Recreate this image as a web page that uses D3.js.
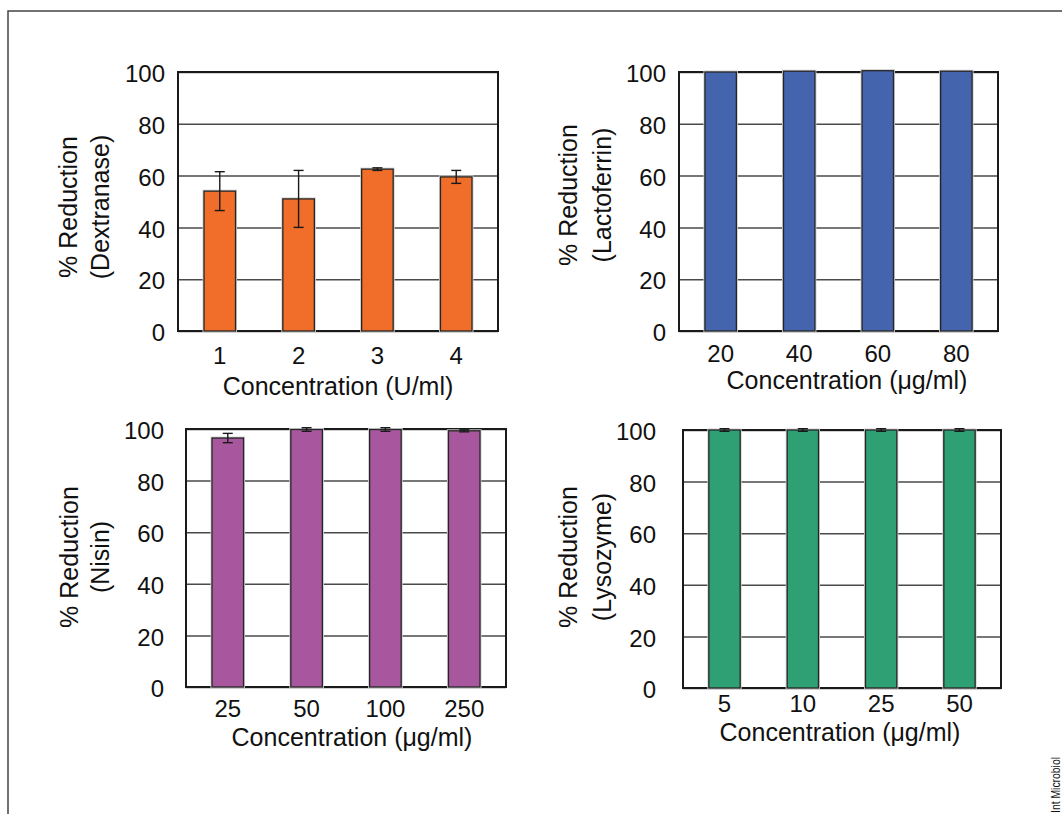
<!DOCTYPE html>
<html>
<head>
<meta charset="utf-8">
<script src="https://cdn.jsdelivr.net/npm/d3@7"></script>
<style>
  body { margin: 0; background: #fff; }
  text { font-family: "Liberation Sans", Arial, sans-serif; fill: #111; }
</style>
</head>
<body>
<div id="chart"></div>
<script>
// values (mean % reduction and error)
var yTicks = [0, 20, 40, 60, 80, 100]

var dextranaseConc = ["1", "2", "3", "4"]
var dextranaseMean = [54, 51, 62.5, 59.5]
var dextranaseErr = [7.5, 11, 0.5, 2.5]

var lactoferrinConc = ["20", "40", "60", "80"]
var lactoferrinMean = [100, 100.3, 100.5, 100.3]
var lactoferrinErr = [0, 0, 0, 0]

var nisinConc = ["25", "50", "100", "250"]
var nisinMean = [96.5, 99.8, 99.8, 99.3]
var nisinErr = [1.8, 0.7, 0.7, 0.4]

var lysozymeConc = ["5", "10", "25", "50"]
var lysozymeMean = [100, 100, 100, 100]
var lysozymeErr = [0.5, 0.5, 0.5, 0.5]

var width = 1062, height = 814

var svg = d3.select("#chart").append("svg")
  .attr("width", width)
  .attr("height", height)

// figure frame (top and left edges only show)
svg.append("path")
  .attr("d", "M8,814V11H1062")
  .attr("fill", "none")
  .attr("stroke", "#444")
  .attr("stroke-width", 1.5)

// panel layout: plot box, label placements
var panels = [
  {conc: dextranaseConc, mean: dextranaseMean, err: dextranaseErr, color: "#F06D2A",
   name: "(Dextranase)", unit: "Concentration (U/ml)",
   box: [178, 72, 498, 331], yPad: 13, xPad: 16, ylab: [68, 100, 207], xlab: [338, 395]},
  {conc: lactoferrinConc, mean: lactoferrinMean, err: lactoferrinErr, color: "#4564AE",
   name: "(Lactoferrin)", unit: "Concentration (\u03bcg/ml)",
   box: [679, 72, 998, 331], yPad: 13, xPad: 14, ylab: [568, 602, 195], xlab: [847, 389]},
  {conc: nisinConc, mean: nisinMean, err: nisinErr, color: "#A8579F",
   name: "(Nisin)", unit: "Concentration (\u03bcg/ml)",
   box: [186, 429, 506, 687], yPad: 22, xPad: 13, ylab: [69, 100, 557], xlab: [352, 746]},
  {conc: lysozymeConc, mean: lysozymeMean, err: lysozymeErr, color: "#2FA073",
   name: "(Lysozyme)", unit: "Concentration (\u03bcg/ml)",
   box: [683, 430, 1001, 688], yPad: 27, xPad: 7, ylab: [568, 602, 557], xlab: [840, 741]}
]

panels.forEach(drawPanel)

function drawPanel(p) {
  var x0 = p.box[0], y0 = p.box[1], x1 = p.box[2], y1 = p.box[3]
  var w = x1 - x0, h = y1 - y0

  var x = d3.scaleBand()
    .domain(p.conc)
    .range([0, w])
    .paddingInner(0.6)
    .paddingOuter(0.33)

  var y = d3.scaleLinear()
    .domain([0, 100])
    .range([h, 0])

  var g = svg.append("g")
    .attr("transform", "translate(" + x0 + "," + y0 + ")")

  // gridlines + y tick labels
  var ya = g.append("g")
    .call(d3.axisLeft(y).tickValues(yTicks).tickSize(-w).tickPadding(p.yPad))
  ya.select(".domain").remove()
  ya.selectAll("line").attr("stroke", "#4a4a4a").attr("stroke-width", 1.5)
  ya.selectAll("text")
    .attr("dy", "0.4em")
    .style("font-size", "24px")
    .style("font-family", "Liberation Sans, Arial, sans-serif")
    .attr("fill", "#111")

  // plot frame
  g.append("rect")
    .attr("width", w)
    .attr("height", h)
    .attr("fill", "none")
    .attr("stroke", "#1a1a1a")
    .attr("stroke-width", 2)

  var rows = p.conc.map(function(c, i) { return {c: c, m: p.mean[i], e: p.err[i]} })

  // soft halo then bar
  g.selectAll(".halo")
    .data(rows)
  .enter().append("rect")
    .attr("class", "halo")
    .attr("x", function(d) { return x(d.c) })
    .attr("y", function(d) { return y(d.m) })
    .attr("width", x.bandwidth())
    .attr("height", function(d) { return h - y(d.m) })
    .attr("fill", "none")
    .attr("stroke", "#cfcfcf")
    .attr("stroke-width", 3)

  g.selectAll(".bar")
    .data(rows)
  .enter().append("rect")
    .attr("class", "bar")
    .attr("x", function(d) { return x(d.c) })
    .attr("y", function(d) { return y(d.m) })
    .attr("width", x.bandwidth())
    .attr("height", function(d) { return h - y(d.m) })
    .attr("fill", p.color)
    .attr("stroke", "#262626")
    .attr("stroke-width", 1.3)

  // error bars
  var eb = g.selectAll(".err")
    .data(rows.filter(function(d) { return d.e > 0 }))
  .enter().append("g")
    .attr("class", "err")
    .attr("transform", function(d) { return "translate(" + (x(d.c) + x.bandwidth() / 2) + ",0)" })
    .attr("stroke", "#1a1a1a")
    .attr("stroke-width", 1.4)
  eb.append("line")
    .attr("y1", function(d) { return y(d.m + d.e) })
    .attr("y2", function(d) { return y(d.m - d.e) })
  eb.append("line")
    .attr("x1", -5).attr("x2", 5)
    .attr("y1", function(d) { return y(d.m + d.e) })
    .attr("y2", function(d) { return y(d.m + d.e) })
  eb.append("line")
    .attr("x1", -5).attr("x2", 5)
    .attr("y1", function(d) { return y(d.m - d.e) })
    .attr("y2", function(d) { return y(d.m - d.e) })

  // x tick labels
  var xa = g.append("g")
    .attr("transform", "translate(0," + h + ")")
    .call(d3.axisBottom(x).tickSize(0).tickPadding(p.xPad))
  xa.select(".domain").remove()
  xa.selectAll("text")
    .style("font-size", "24px")
    .style("font-family", "Liberation Sans, Arial, sans-serif")
    .attr("fill", "#111")

  // axis titles
  svg.append("text")
    .attr("x", p.xlab[0])
    .attr("y", p.xlab[1])
    .attr("text-anchor", "middle")
    .style("font-size", "25px")
    .text(p.unit)

  var fs = 25
  ;[["% Reduction", p.ylab[0]], [p.name, p.ylab[1]]].forEach(function(t) {
    svg.append("text")
      .attr("transform", "translate(" + (t[1] + 0.36 * fs) + "," + p.ylab[2] + ")rotate(-90)")
      .attr("text-anchor", "middle")
      .style("font-size", fs + "px")
      .text(t[0])
  })
}

// journal tag at the right edge
svg.append("text")
  .attr("transform", "translate(1060,813)rotate(-90)")
  .attr("textLength", 56)
  .attr("lengthAdjust", "spacingAndGlyphs")
  .style("font-size", "13px")
  .attr("fill", "#333")
  .text("Int Microbiol")
</script>
</body>
</html>
